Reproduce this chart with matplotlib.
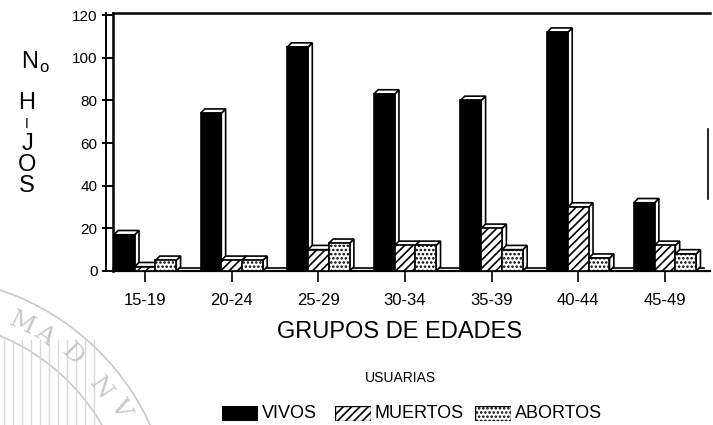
import matplotlib
matplotlib.use("Agg")
import matplotlib.pyplot as plt
from matplotlib.patches import Polygon, Arc
import numpy as np

plt.rcParams['font.family'] = ['Liberation Sans', 'DejaVu Sans']
plt.rcParams['hatch.linewidth'] = 1.2

# datos
grupos = ["15-19", "20-24", "25-29", "30-34", "35-39", "40-44", "45-49"]
vivos = [17, 74, 105, 83, 80, 112, 32]
muertos = [2, 5, 10, 12, 20, 30, 12]
abortos = [5, 5, 13, 12, 10, 6, 8]
yticks = [0, 20, 40, 60, 80, 100, 120]

series = [
    (vivos, "black", ""),
    (muertos, "white", "////"),
    (abortos, "white", "...."),
]

W, H = 713, 425
fig = plt.figure(figsize=(W / 100, H / 100), dpi=100)

# ejes en pixeles del original
x0, x1, ytop, ybot = 113, 710, 13, 271
ax = fig.add_axes([x0 / W, 1 - ybot / H, (x1 - x0) / W, (ybot - ytop) / H])
ax.set_xlim(-0.37, 6.52)
ax.set_ylim(0, 121)

ancho = 0.24
dx, dy = 0.05, 2.0
x = np.arange(len(grupos))

for g in range(len(grupos)):
    for k, (vals, color, hatch) in enumerate(series):
        xc = x[g] + (k - 1) * ancho
        v = vals[g]
        xl, xr = xc - ancho / 2, xc + ancho / 2
        z = 2 + g * 3 + k
        # cara lateral y superior (3D)
        lado = Polygon([(xr, 0), (xr + dx, dy), (xr + dx, v + dy), (xr, v)],
                       closed=True, facecolor="white", edgecolor="black", lw=1.2, zorder=z)
        tapa = Polygon([(xl, v), (xl + dx, v + dy), (xr + dx, v + dy), (xr, v)],
                       closed=True, facecolor="white", edgecolor="black", lw=1.2, zorder=z)
        ax.add_patch(lado)
        ax.add_patch(tapa)
        ax.bar(xc, v, width=ancho, color=color, edgecolor="black", hatch=hatch,
               lw=1.2, zorder=z + 0.5)

# piso
ax.plot([-0.37, 6.45], [dy * 0.6, dy * 0.6], color="black", lw=1.2, zorder=1, clip_on=False)

ax.spines["right"].set_visible(False)
ax.spines["bottom"].set_linewidth(1.6)
ax.spines["left"].set_linewidth(1.8)
ax.spines["top"].set_linewidth(1.8)
# doble linea del eje y
ax.plot([-0.012, -0.012], [0, 1], transform=ax.transAxes, color="black", lw=1.4, clip_on=False)
ax.plot([0.997, 0.997], [0.28, 0.55], transform=ax.transAxes, color="black", lw=1.2, clip_on=False)

ax.set_yticks(yticks)
ax.set_yticklabels([str(t) for t in yticks], fontsize=11)
ax.set_xticks(x)
ax.set_xticklabels(grupos, fontsize=12)
ax.tick_params(axis="y", length=8, width=1.4, pad=3)
ax.tick_params(axis="x", length=8, width=1.2, pad=8)

fig.text(400 / W, 1 - 332 / H, "GRUPOS DE EDADES", fontsize=17, ha="center", va="center")

# etiqueta vertical del eje y
fig.text(30 / W, 1 - 62 / H, "N", fontsize=17, ha="center", va="center")
fig.text(44 / W, 1 - 67 / H, "o", fontsize=12, ha="center", va="center")
for letra, yy, fs in [("H", 103, 17), ("I", 124, 10), ("J", 144, 17), ("O", 165, 17), ("S", 186, 17)]:
    fig.text(27 / W, 1 - yy / H, letra, fontsize=fs, ha="center", va="center")

# leyenda
fig.text(400 / W, 1 - 378 / H, "USUARIAS", fontsize=10, ha="center", va="center")
items = [("VIVOS", 222, "black", ""), ("MUERTOS", 335, "white", "////"), ("ABORTOS", 475, "white", "....")]
for nombre, px, color, hatch in items:
    ax_l = fig.add_axes([px / W, 1 - 421 / H, 36 / W, 15 / H])
    ax_l.add_patch(plt.Rectangle((0, 0), 1, 1, facecolor=color, edgecolor="black", hatch=hatch, lw=1))
    ax_l.set_xlim(0, 1)
    ax_l.set_ylim(0, 1)
    ax_l.axis("off")
    fig.text((px + 40) / W, 1 - 414 / H, nombre, fontsize=13, ha="left", va="center")

# sello de agua (marca del escaneo)
sello = fig.add_axes([0, 0, 1, 1], zorder=-1)
sello.set_xlim(0, W)
sello.set_ylim(H, 0)
sello.axis("off")
for r in (253, 210):
    sello.add_patch(Arc((-80, 530), 2 * r, 2 * r, theta1=270, theta2=360, color="#c8c8c8", lw=1.2))
for letra, px, py, rot in [("M", 22, 324, -25), ("A", 44, 335, -35), ("D", 72, 355, -45),
                           ("N", 100, 388, -55), ("V", 120, 408, -62)]:
    sello.text(px, py, letra, fontsize=18, color="#c8c8c8", family="DejaVu Serif",
               rotation=rot, ha="center", va="center")
for xv in range(4, 95, 9):
    sello.plot([xv, xv], [340, 425], color="#d8d8d8", lw=1)

fig.savefig("out.png", dpi=100)
